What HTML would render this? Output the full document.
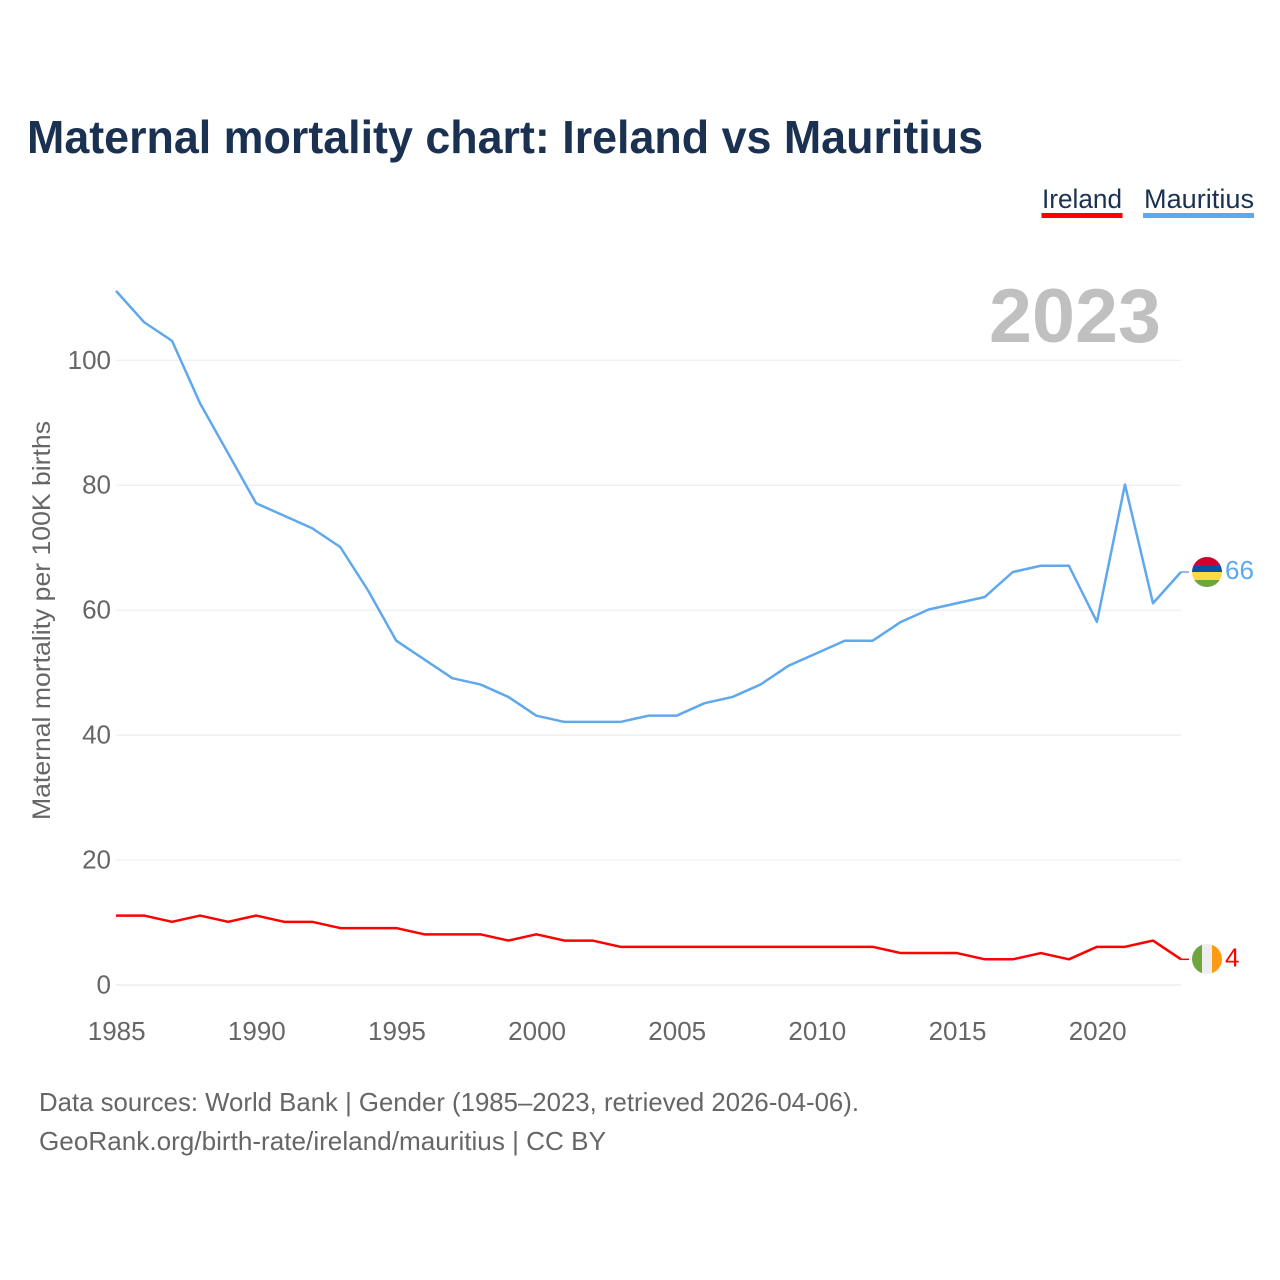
<!DOCTYPE html>
<html lang="en">
<head>
<meta charset="utf-8">
<title>Maternal mortality chart: Ireland vs Mauritius</title>
<style>
html,body{margin:0;padding:0;background:#fff;}
svg{display:block;font-family:"Liberation Sans",sans-serif;}
</style>
</head>
<body>
<svg id="chart" xmlns="http://www.w3.org/2000/svg" width="1280" height="1280" viewBox="0 0 1280 1280">
  <defs>
    <clipPath id="clip-mu"><circle cx="1207" cy="572" r="15"></circle></clipPath>
    <clipPath id="clip-ie"><circle cx="1207" cy="959" r="15"></circle></clipPath>
  </defs>
  <rect width="1280" height="1280" fill="#fff"></rect>
  <text x="27" y="153" font-size="46" font-weight="700" fill="#1a3152" textLength="956" lengthAdjust="spacingAndGlyphs">Maternal mortality chart: Ireland vs Mauritius</text>

  <g>
    <text x="1042" y="208" font-size="27" fill="#1a3152" textLength="80" lengthAdjust="spacingAndGlyphs">Ireland</text>
    <rect x="1041.5" y="213" width="81" height="5" fill="#ff0000"></rect>
  </g>
  <g>
    <text x="1144" y="208" font-size="27" fill="#1a3152" textLength="110" lengthAdjust="spacingAndGlyphs">Mauritius</text>
    <rect x="1143" y="213" width="111" height="5" fill="#5fa8ee"></rect>
  </g>

  <g id="grid"></g>
  <g id="y-ticks"></g>
  <g id="x-ticks"></g>

  <text x="989" y="342" font-size="76" font-weight="700" fill="#c0c0c0" textLength="172" lengthAdjust="spacingAndGlyphs">2023</text>

  <text transform="translate(50,620.5) rotate(-90)" text-anchor="middle" font-size="25" fill="#666666" textLength="399" lengthAdjust="spacingAndGlyphs">Maternal mortality per 100K births</text>

  <g id="series"></g>

  <g clip-path="url(#clip-mu)">
    <rect x="1192" y="557" width="30" height="8" fill="#d0002e"></rect>
    <rect x="1192" y="565" width="30" height="7" fill="#0a4fa8"></rect>
    <rect x="1192" y="572" width="30" height="8" fill="#ffd84a"></rect>
    <rect x="1192" y="580" width="30" height="7" fill="#6fa53f"></rect>
  </g>
  <g clip-path="url(#clip-ie)">
    <rect x="1192" y="944" width="10" height="30" fill="#6fa53f"></rect>
    <rect x="1202" y="944" width="10" height="30" fill="#eeeeee"></rect>
    <rect x="1212" y="944" width="10" height="30" fill="#ff9a14"></rect>
  </g>

  <text x="39" y="1111" font-size="26" fill="#666666" textLength="820" lengthAdjust="spacingAndGlyphs">Data sources: World Bank | Gender (1985–2023, retrieved 2026-04-06).</text>
  <text x="39" y="1150" font-size="26" fill="#666666" textLength="567" lengthAdjust="spacingAndGlyphs">GeoRank.org/birth-rate/ireland/mauritius | CC BY</text>
</svg>
<script>
const years = [1985,1986,1987,1988,1989,1990,1991,1992,1993,1994,1995,1996,1997,1998,1999,2000,2001,2002,2003,2004,2005,2006,2007,2008,2009,2010,2011,2012,2013,2014,2015,2016,2017,2018,2019,2020,2021,2022,2023];
const irelandValues = [11,11,10,11,10,11,10,10,9,9,9,8,8,8,7,8,7,7,6,6,6,6,6,6,6,6,6,6,5,5,5,4,4,5,4,6,6,7,4];
const mauritiusValues = [111,106,103,93,85,77,75,73,70,63,55,52,49,48,46,43,42,42,42,43,43,45,46,48,51,53,55,55,58,60,61,62,66,67,67,58,80,61,66];
const yTickValues = [0,20,40,60,80,100];
const xTickValues = [1985,1990,1995,2000,2005,2010,2015,2020];

const NS = 'http://www.w3.org/2000/svg';
const xScale = function (year) { return 116 + (year - 1985) * (1181 - 116) / (2023 - 1985); };
const yScale = function (value) { return 985 - value * 6.247; };
const make = function (tag, parent, attrs) {
  const el = document.createElementNS(NS, tag);
  Object.keys(attrs).forEach(function (k) { el.setAttribute(k, attrs[k]); });
  parent.appendChild(el);
  return el;
};

const grid = document.getElementById('grid');
const yTicks = document.getElementById('y-ticks');
const xTicks = document.getElementById('x-ticks');
const series = document.getElementById('series');

yTickValues.forEach(function (v) {
  const line = make('line', grid, {x1: 116, x2: 1181, y1: yScale(v), y2: yScale(v), stroke: '#eeeeee', 'stroke-width': v === 0 ? 1.5 : 1.2});
  
  
  const label = make('text', yTicks, {x: 111, y: yScale(v) + 8.5, 'text-anchor': 'end', 'font-size': 26, fill: '#666666'});
  
  
  label.textContent = v;
});

xTickValues.forEach(function (y) {
  const label = make('text', xTicks, {x: xScale(y) + 0.7, y: 1040, 'text-anchor': 'middle', 'font-size': 26, fill: '#666666'});
  
  
  label.textContent = y;
});

function drawSeries(values, color, key) {
  const pts = values.map(function (v, i) { return xScale(years[i]).toFixed(2) + ',' + (yScale(v) - 0.7).toFixed(2); }).join(' ');
  const line = make('polyline', series, {points: pts, fill: 'none', stroke: color, 'stroke-width': 2.5, 'stroke-linejoin': 'round'});
  
  
  const last = values[values.length - 1];
  const lastY = yScale(last) - 0.7;
  const connector = make('line', series, {x1: 1181, x2: 1189, y1: lastY, y2: lastY, stroke: color, 'stroke-width': 1.5});
  
  
  const label = make('text', series, {x: 1225, y: lastY + 7, 'font-size': 26, fill: color});
  
  
  label.textContent = last;
}
drawSeries(irelandValues, '#ff0000', 'ireland');
drawSeries(mauritiusValues, '#5fa8ee', 'mauritius');
</script>
</body>
</html>
